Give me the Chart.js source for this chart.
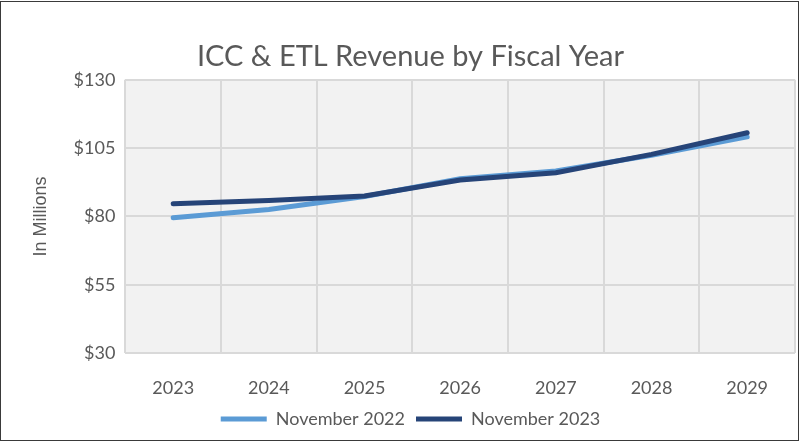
<!DOCTYPE html>
<html>
<head>
<meta charset="utf-8">
<script src="https://cdn.jsdelivr.net/npm/chart.js@4"></script>
<style>
  html, body { margin: 0; padding: 0; background: #fff; }
  #wrap { position: absolute; left: 0; top: 1px; width: 799px; height: 440px; border: 1px solid #3a3a3a; box-sizing: border-box; }
  #holder { position: absolute; left: 0; top: 0; width: 804px; height: 443px; }
</style>
</head>
<body>
<div id="wrap"></div>
<div id="holder"><canvas id="line-chart"></canvas></div>
<script>
// data
const years = ['2023', '2024', '2025', '2026', '2027', '2028', '2029'];
const nov2022 = [79.5, 82.5, 87.3, 93.8, 96.6, 102.4, 109.1];
const nov2023 = [84.6, 85.8, 87.5, 93.3, 96.0, 102.7, 110.6];
const yTicks = [30, 55, 80, 105, 130];

const grey = '#595959';
const face = 'Lato';

// light grey fill behind the plot area
const plotBg = {
  id: 'plotBg',
  beforeDraw(chart) {
    const a = chart.chartArea;
    const c = chart.ctx;
    c.save();
    c.fillStyle = '#f2f2f2';
    c.fillRect(a.left, a.top, a.right - a.left, a.bottom - a.top);
    c.restore();
  }
};

const ctx = document.getElementById('line-chart');

new Chart(ctx, {
  type: 'line',
  plugins: [plotBg],
  data: {
    labels: years,
    datasets: [{
      label: 'November 2022',
      data: nov2022,
      borderColor: '#5b9bd5',
      backgroundColor: '#5b9bd5',
      borderWidth: 5,
      pointRadius: 0,
      tension: 0,
      borderCapStyle: 'round',
      order: 2
    }, {
      label: 'November 2023',
      data: nov2023,
      borderColor: '#264478',
      backgroundColor: '#264478',
      borderWidth: 5,
      pointRadius: 0,
      tension: 0,
      borderCapStyle: 'round',
      order: 1
    }]
  },
  options: {
    responsive: true,
    maintainAspectRatio: false,
    animation: false,
    layout: { padding: { left: 26, right: 9, top: 8, bottom: 5 } },
    plugins: {
      title: {
        display: true,
        text: 'ICC & ETL Revenue by Fiscal Year',
        color: grey,
        font: { family: face, size: 29, weight: 'normal' },
        padding: { top: 31, bottom: 6 }
      },
      legend: {
        position: 'bottom',
        maxHeight: 40,
        labels: {
          color: grey,
          font: { family: face, size: 18 },
          usePointStyle: true,
          pointStyle: 'line',
          pointStyleWidth: 46,
          boxHeight: 18,
          padding: 11,
          sort: (a, b) => a.datasetIndex - b.datasetIndex
        }
      },
      tooltip: { enabled: false }
    },
    scales: {
      x: {
        offset: true,
        grid: { offset: true, color: '#d9d9d9', lineWidth: 2, drawTicks: false },
        border: { display: false },
        ticks: { color: grey, font: { family: face, size: 18 }, padding: 24 },
        afterFit(s) { s.height = 46; }
      },
      y: {
        min: 30,
        max: 130,
        afterBuildTicks(axis) { axis.ticks = yTicks.map(v => ({ value: v })); },
        grid: { color: '#d9d9d9', lineWidth: 2, drawTicks: false },
        border: { display: false },
        ticks: {
          color: grey,
          font: { family: face, size: 18 },
          padding: 10,
          callback: v => '$' + v
        },
        title: {
          display: true,
          text: 'In Millions',
          color: grey,
          font: { family: 'Liberation Sans', size: 18 },
          padding: { bottom: 12 }
        }
      }
    }
  }
});
</script>
</body>
</html>
